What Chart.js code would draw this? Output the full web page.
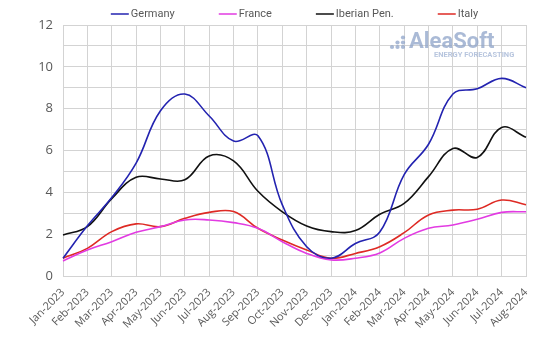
<!DOCTYPE html>
<html>
<head>
<meta charset="utf-8">
<script src="https://cdn.jsdelivr.net/npm/chart.js@4.4.1/dist/chart.umd.min.js"></script>
<style>
  html, body { margin: 0; padding: 0; background: #ffffff; }
  #wrap { width: 538px; height: 341px; }
</style>
</head>
<body>
<div id="wrap"><canvas id="c" width="538" height="341"></canvas></div>
<script>
// Monthly categories
const months = [
  'Jan-2023','Feb-2023','Mar-2023','Apr-2023','May-2023','Jun-2023','Jul-2023','Aug-2023',
  'Sep-2023','Oct-2023','Nov-2023','Dec-2023','Jan-2024','Feb-2024','Mar-2024','Apr-2024',
  'May-2024','Jun-2024','Jul-2024','Aug-2024'
];

// Series values per market
const germany = [0.85, 2.4, 3.75, 5.4, 7.9, 8.7, 7.65, 6.45, 6.7, 3.4, 1.4, 0.85, 1.55, 2.1, 4.85, 6.3, 8.7, 8.95, 9.45, 9.0];
const france  = [0.72, 1.24, 1.64, 2.09, 2.36, 2.68, 2.68, 2.55, 2.28, 1.64, 1.08, 0.77, 0.85, 1.1, 1.8, 2.28, 2.44, 2.71, 3.04, 3.07];
const iberian = [1.96, 2.36, 3.7, 4.72, 4.64, 4.6, 5.74, 5.5, 4.05, 3.07, 2.39, 2.12, 2.17, 2.95, 3.47, 4.75, 6.1, 5.67, 7.1, 6.63];
const italy   = [0.85, 1.32, 2.12, 2.49, 2.36, 2.76, 3.04, 3.08, 2.28, 1.72, 1.24, 0.85, 1.08, 1.4, 2.07, 2.92, 3.15, 3.19, 3.63, 3.41];

// Series names and y-axis tick range
const seriesNames = ['Germany', 'France', 'Iberian Pen.', 'Italy'];
const yTicksMin = 0, yTicksMax = 12, yLabelStep = 2;

const colors = ['#2323b0', '#e23be2', '#111111', '#de2a24'];
const textColor = '#595959';
const gridColor = '#d3d3d3';

const seriesData = [germany, france, iberian, italy];
const datasets = seriesNames.map((name, i) => ({
  label: name,
  data: seriesData[i],
  borderColor: colors[i],
  backgroundColor: colors[i],
  borderWidth: 1.6,
  pointRadius: 0,
  tension: 0.4,
  fill: false
}));

// Legend row above the plot: short line sample followed by the name
const topLegend = {
  id: 'topLegend',
  afterDraw(chart) {
    const ctx = chart.ctx;
    const area = chart.chartArea;
    ctx.save();
    ctx.font = '11px Roboto';
    ctx.textBaseline = 'middle';
    const lineW = 18, gapTxt = 2, gapItem = 44;
    const items = chart.data.datasets.map(ds => ({
      text: ds.label, color: ds.borderColor, w: lineW + gapTxt + ctx.measureText(ds.label).width
    }));
    const total = items.reduce((s, it) => s + it.w, 0) + gapItem * (items.length - 1);
    let x = (area.left + area.right) / 2 - total / 2;
    const y = 14;
    items.forEach(it => {
      ctx.strokeStyle = it.color;
      ctx.lineWidth = 1.5;
      ctx.beginPath();
      ctx.moveTo(x, y);
      ctx.lineTo(x + lineW, y);
      ctx.stroke();
      ctx.fillStyle = textColor;
      ctx.textAlign = 'left';
      ctx.fillText(it.text, x + lineW + gapTxt, y + 0.5);
      x += it.w + gapItem;
    });
    ctx.restore();
  }
};

// Company watermark in the upper right of the plot
const watermark = {
  id: 'watermark',
  afterDraw(chart) {
    const ctx = chart.ctx;
    ctx.save();
    ctx.globalAlpha = 0.75;
    ctx.fillStyle = '#8ea3c8';
    const dots = [[403, 37.5], [397.5, 42.5], [403, 42.5], [392, 47], [397.5, 47], [403, 47]];
    dots.forEach(([dx, dy]) => {
      ctx.beginPath();
      ctx.arc(dx, dy, 2.1, 0, Math.PI * 2);
      ctx.fill();
    });
    ctx.font = 'bold 22px Roboto';
    ctx.textAlign = 'left';
    ctx.textBaseline = 'alphabetic';
    ctx.fillText('AleaSoft', 409, 48);
    ctx.fillStyle = '#9fb1d3';
    ctx.font = 'bold 7.5px Roboto';
    ctx.fillText('ENERGY FORECASTING', 434, 57);
    ctx.restore();
  }
};

new Chart(document.getElementById('c'), {
  type: 'line',
  data: { labels: months, datasets },
  options: {
    responsive: false,
    animation: false,
    layout: { padding: { top: 25, right: 12, left: 0, bottom: 0 } },
    plugins: {
      legend: { display: false },
      tooltip: { enabled: false }
    },
    scales: {
      x: {
        offset: false,
        grid: { color: gridColor, lineWidth: 1, drawTicks: false },
        border: { color: gridColor },
        ticks: {
          color: textColor,
          font: { family: 'Open Sans', size: 11 },
          minRotation: 45,
          maxRotation: 45,
          autoSkip: false,
          padding: 10
        },
        afterFit(scale) {
          scale.height = 65;
          scale.paddingLeft = 0;
          scale.paddingRight = 0;
        }
      },
      y: {
        min: yTicksMin,
        max: yTicksMax,
        grid: { color: gridColor, lineWidth: 1, drawTicks: false },
        border: { color: gridColor },
        ticks: {
          stepSize: 1,
          color: textColor,
          font: { family: 'Open Sans', size: 13 },
          padding: 10,
          callback: v => (v % yLabelStep === 0 ? v : '')
        },
        afterFit(scale) { scale.width = 63; }
      }
    }
  },
  plugins: [topLegend, watermark]
});
</script>
</body>
</html>
